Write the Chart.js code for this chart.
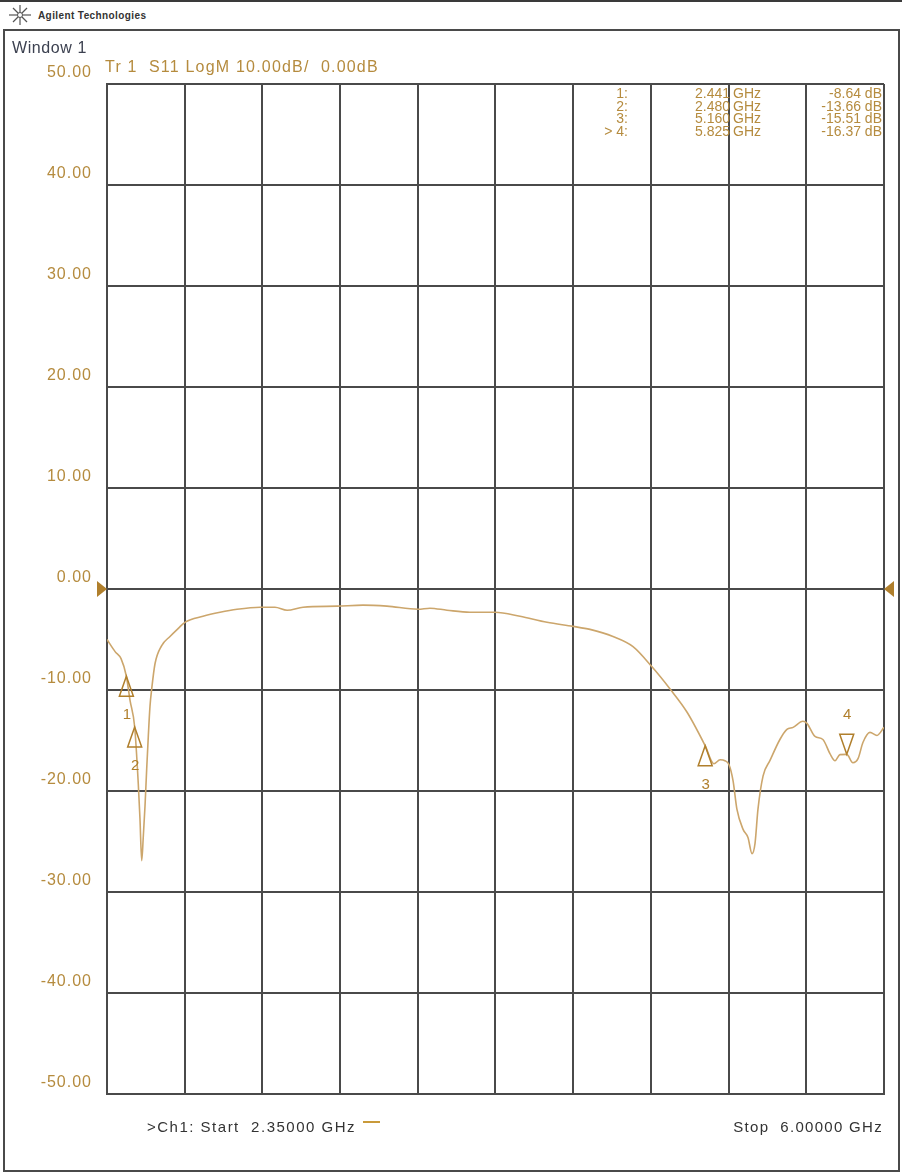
<!DOCTYPE html>
<html>
<head>
<meta charset="utf-8">
<script src="https://cdn.jsdelivr.net/npm/chart.js@4.4.1/dist/chart.umd.min.js"></script>
<style>
    html, body { margin: 0; padding: 0; background: #fff; }
    #page { position: relative; width: 902px; height: 1173px; overflow: hidden; font-family: "Liberation Sans", Arial, sans-serif; }
    #chartBox { position: absolute; left: 0; top: 0; width: 902px; height: 1173px; }
    .t { position: absolute; white-space: pre; line-height: 1; }
    #topLine { position: absolute; left: 0; top: 0; width: 902px; height: 2px; background: #3a3a3a; }
    #frame { position: absolute; left: 3px; top: 29px; width: 893px; height: 1139px; border: 2px solid #4a4a4a; }
    #brand { left: 38px; top: 11px; font-size: 10px; font-weight: bold; color: #333; letter-spacing: 0.4px; }
    #logo { position: absolute; left: 8px; top: 4px; }
    #win { left: 12px; top: 40px; font-size: 16px; color: #3c4150; letter-spacing: 0.6px; }
    #trace { left: 105px; top: 59px; font-size: 16px; color: #b58b3e; letter-spacing: 1.2px; }
    #mkTable { position: absolute; left: 600px; top: 87px; font-size: 14px; color: #b58b3e; line-height: 12.5px; }
    #mkTable div { position: absolute; white-space: pre; }
    #start { left: 147px; top: 1119px; font-size: 15px; color: #333; letter-spacing: 1.5px; }
    #dash { position: absolute; left: 363px; top: 1121px; width: 17px; height: 2px; background: #c99a3a; }
    #stop { right: 19px; top: 1119px; font-size: 15px; color: #333; letter-spacing: 1.3px; }
</style>
</head>
<body>
<div id="page">
    <div id="topLine"></div>
    <svg id="logo" width="24" height="22" viewBox="0 0 24 22">
        <g stroke="#555" stroke-width="1.2">
            <line x1="12" y1="1" x2="12" y2="21"/>
            <line x1="1" y1="11" x2="23" y2="11"/>
            <line x1="5" y1="4" x2="19" y2="18"/>
            <line x1="19" y1="4" x2="5" y2="18"/>
        </g>
        <circle cx="12" cy="11" r="2.5" fill="#fff" stroke="#555" stroke-width="1"/>
    </svg>
    <div class="t" id="brand">Agilent Technologies</div>
    <div id="frame"></div>
    <div id="chartBox"><canvas id="vna"></canvas></div>
    <div class="t" id="win">Window 1</div>
    <div class="t" id="trace">Tr 1  S11 LogM 10.00dB/  0.00dB</div>
    <div id="mkTable"></div>
    <div class="t" id="start">&gt;Ch1: Start  2.35000 GHz</div>
    <div id="dash"></div>
    <div class="t" id="stop">Stop  6.00000 GHz</div>
</div>
<script>
// S11 trace
const freqGHz = [
    2.350, 2.388, 2.416, 2.441, 2.458, 2.480, 2.497, 2.505, 2.513, 2.5205,
    2.5285, 2.5365, 2.544, 2.552, 2.560, 2.5755, 2.607, 2.646, 2.685, 2.716,
    2.801, 2.881, 2.961, 3.069, 3.139, 3.196, 3.271, 3.430, 3.553, 3.665,
    3.811, 3.867, 3.947, 4.055, 4.173, 4.290, 4.417, 4.539, 4.619, 4.727,
    4.821, 4.910, 4.995, 5.075, 5.160, 5.201, 5.230, 5.253, 5.272, 5.291,
    5.309, 5.338, 5.361, 5.380, 5.394, 5.408, 5.432, 5.464, 5.511, 5.544,
    5.573, 5.619, 5.638, 5.676, 5.713, 5.746, 5.770, 5.793, 5.825, 5.854,
    5.878, 5.901, 5.934, 5.967, 6.000
];
const s11dB = [
    -5.0, -6.2, -6.9, -8.64, -11.0, -13.66, -19.3, -22.8, -26.9, -24.5,
    -21.5, -17.8, -14.6, -11.6, -9.9, -7.4, -5.6, -4.7, -3.9, -3.3,
    -2.7, -2.3, -2.0, -1.8, -1.8, -2.1, -1.8, -1.7, -1.6, -1.7,
    -2.0, -1.9, -2.1, -2.3, -2.3, -2.7, -3.3, -3.7, -4.0, -4.7,
    -5.7, -7.7, -9.9, -12.2, -15.51, -17.3, -16.9, -17.0, -17.4, -19.0,
    -21.8, -23.8, -24.6, -26.2, -25.2, -21.8, -18.5, -17.0, -14.9, -13.9,
    -13.7, -13.1, -13.3, -14.6, -14.9, -16.3, -17.0, -16.4, -16.37, -17.2,
    -16.8, -15.2, -14.2, -14.5, -13.7
];

const markerNames = ["1", "2", "3", "4"];
const markerFreqGHz = [2.441, 2.480, 5.160, 5.825];
const markerDb = [-8.64, -13.66, -15.51, -16.37];
const activeMarker = 3;

const xGridGHz = [2.35, 2.715, 3.08, 3.445, 3.81, 4.175, 4.54, 4.905, 5.27, 5.635, 6.0];
const yMin = -50, yMax = 50, yStep = 10;
const refLevelDb = 0;

const gold = "#b58b3e";
const traceColor = "rgb(204,166,108)";
const gridColor = "#4a4a4a";

// marker readout, top right of the grid
const tbl = document.getElementById("mkTable");
markerNames.forEach((name, i) => {
    const top = i * 12.5;
    const label = (i === activeMarker ? "> " : "") + name + ":";
    tbl.insertAdjacentHTML("beforeend",
        `<div style="top:${top}px">${label.replace(">", "&gt;")}</div>` +
        `<div style="top:${top}px">${markerFreqGHz[i].toFixed(3)}</div>` +
        `<div style="top:${top}px;left:133px">GHz</div>` +
        `<div style="top:${top}px">${markerDb[i].toFixed(2)} dB</div>`);
});
// right-align the number columns
const rightEdges = [28, 130, null, 282];
tbl.querySelectorAll("div").forEach((d, k) => {
    const edge = rightEdges[k % 4];
    if (edge !== null) d.style.left = (edge - d.getBoundingClientRect().width) + "px";
});

const markerPlugin = {
    id: "vnaMarkers",
    beforeDraw(chart) {
        chart.ctx.letterSpacing = "1px";
    },
    afterDatasetsDraw(chart) {
        const { ctx, scales: { x, y } } = chart;
        ctx.save();
        ctx.strokeStyle = "#b07f2c";
        ctx.fillStyle = "#b07f2c";
        ctx.lineWidth = 1.5;
        ctx.font = "15px 'Liberation Sans', Arial, sans-serif";
        ctx.textAlign = "center";
        ctx.textBaseline = "middle";
        markerNames.forEach((name, i) => {
            const px = x.getPixelForValue(markerFreqGHz[i]);
            const py = y.getPixelForValue(markerDb[i]);
            const dir = i === activeMarker ? -1 : 1;
            ctx.beginPath();
            ctx.moveTo(px, py);
            ctx.lineTo(px - 7, py + dir * 20);
            ctx.lineTo(px + 7, py + dir * 20);
            ctx.closePath();
            ctx.stroke();
            ctx.fillText(name, px + 1, py + dir * 39);
        });
        // reference level arrows
        const ry = y.getPixelForValue(refLevelDb);
        const { left, right } = chart.chartArea;
        ctx.beginPath();
        ctx.moveTo(left, ry);
        ctx.lineTo(left - 10, ry - 8);
        ctx.lineTo(left - 10, ry + 8);
        ctx.closePath();
        ctx.fill();
        ctx.beginPath();
        ctx.moveTo(right, ry);
        ctx.lineTo(right + 10, ry - 8);
        ctx.lineTo(right + 10, ry + 8);
        ctx.closePath();
        ctx.fill();
        ctx.restore();
    }
};

new Chart(document.getElementById("vna").getContext("2d"), {
    type: "line",
    data: {
        datasets: [{
            label: "S11",
            data: freqGHz.map((f, i) => ({ x: f, y: s11dB[i] })),
            borderColor: traceColor,
            borderWidth: 1.6,
            pointRadius: 0,
            cubicInterpolationMode: "monotone",
        }],
    },
    options: {
        responsive: true,
        maintainAspectRatio: false,
        animation: false,
        layout: { padding: { left: 7, right: 18, top: 84, bottom: 79 } },
        plugins: { legend: { display: false }, tooltip: { enabled: false } },
        scales: {
            x: {
                type: "linear",
                min: xGridGHz[0],
                max: xGridGHz[xGridGHz.length - 1],
                afterBuildTicks: (scale) => { scale.ticks = xGridGHz.map((v) => ({ value: v })); },
                afterFit: (scale) => { scale.height = 0; },
                ticks: { display: false },
                grid: { color: gridColor, lineWidth: 2, drawTicks: false },
                border: { color: gridColor, width: 2 },
            },
            y: {
                min: yMin,
                max: yMax,
                afterFit: (scale) => { scale.width = 100; },
                ticks: {
                    stepSize: yStep,
                    color: gold,
                    padding: 15,
                    labelOffset: -11,
                    font: { family: "'Liberation Sans', Arial, sans-serif", size: 16 },
                    callback: (v) => v.toFixed(2),
                },
                grid: { color: gridColor, lineWidth: 2, drawTicks: false },
                border: { color: gridColor, width: 2 },
            },
        },
    },
    plugins: [markerPlugin],
});
</script>
</body>
</html>
